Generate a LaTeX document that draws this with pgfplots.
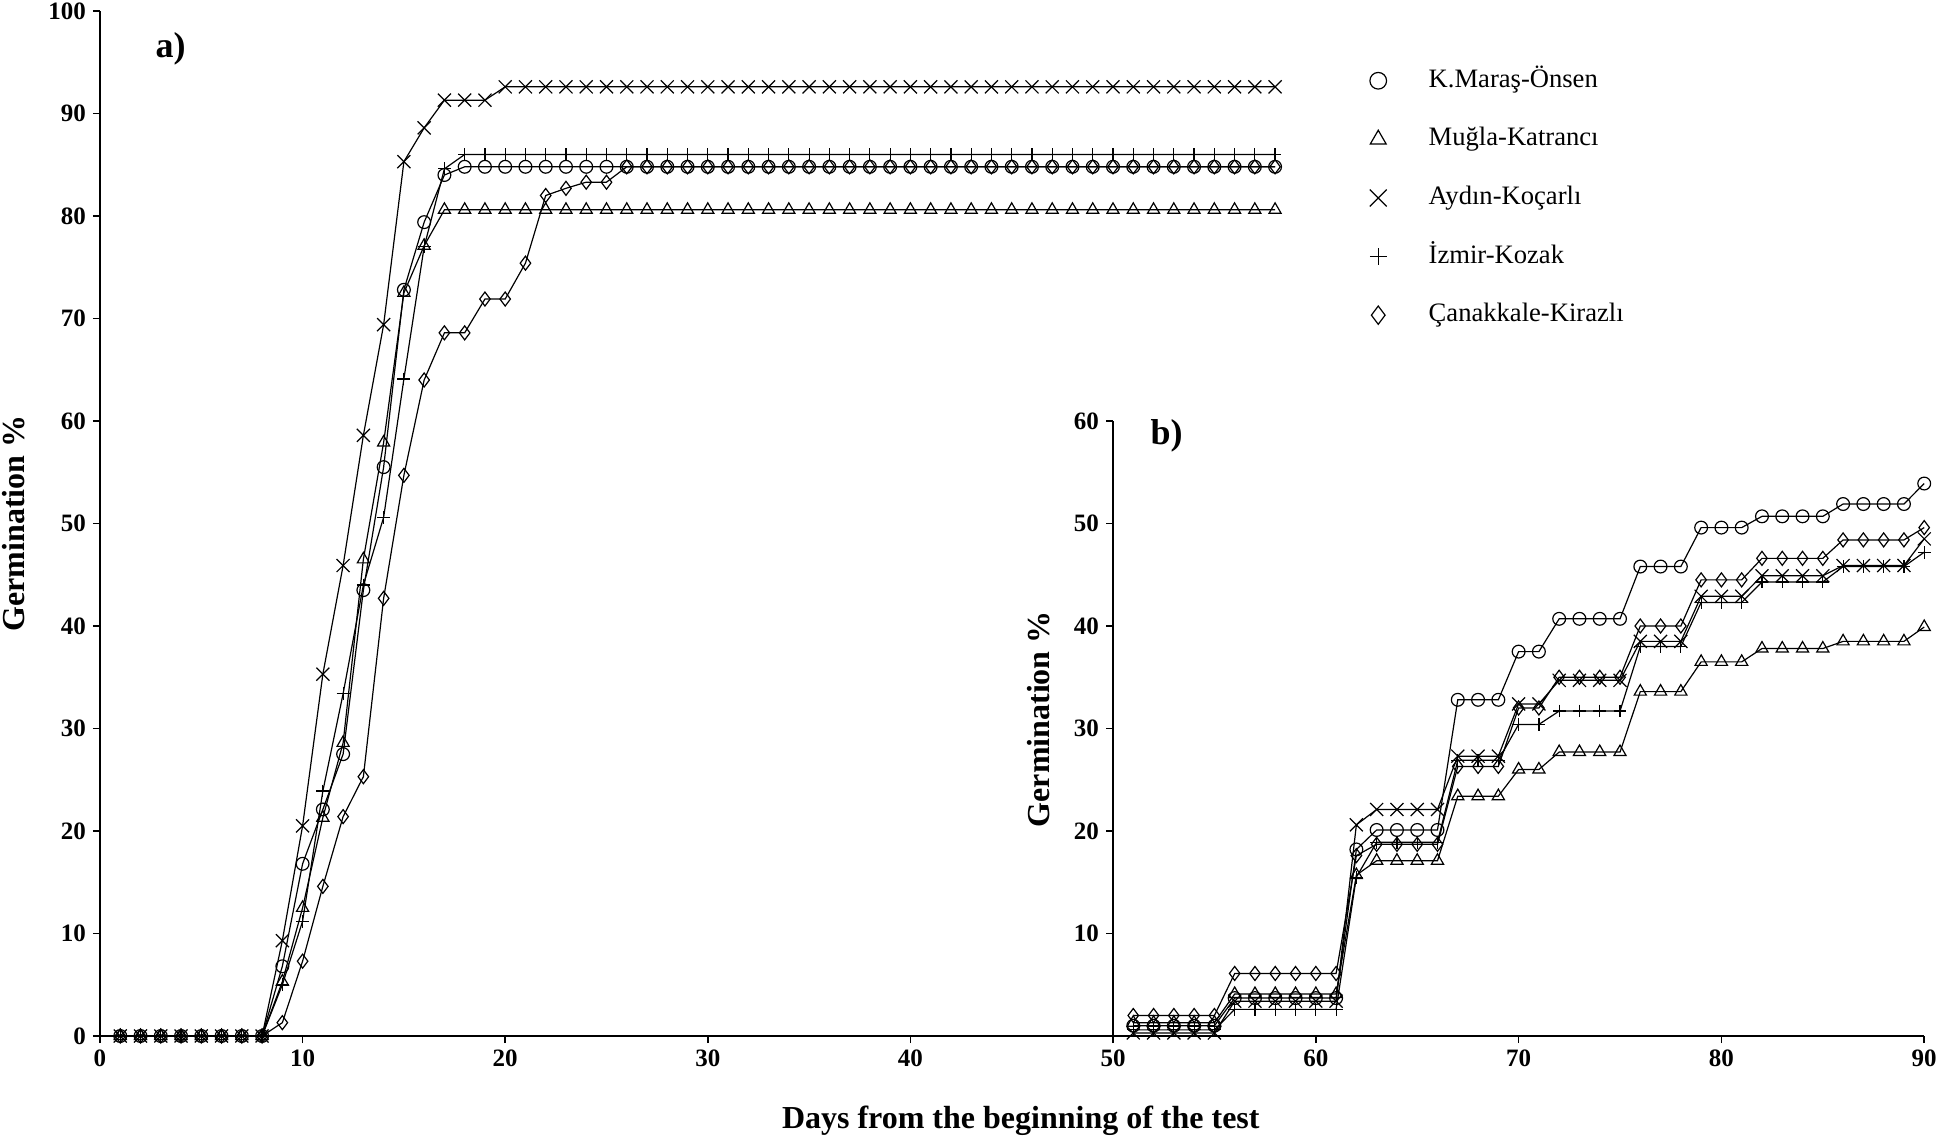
\documentclass[border=0pt]{standalone}
\usepackage{fontspec}
\setmainfont{Liberation Serif}
\usepackage{pgfplots}
\pgfplotsset{compat=1.18}
\usepackage{pgfplotstable}

% panel a: days 1-58
\pgfplotstableread{
day o tri x plus dia
1 0 0 0 0 0
2 0 0 0 0 0
3 0 0 0 0 0
4 0 0 0 0 0
5 0 0 0 0 0
6 0 0 0 0 0
7 0 0 0 0 0
8 0 0 0 0 0
9 6.8 5.3 9.3 5.0 1.3
10 16.8 12.5 20.5 11.2 7.3
11 22.1 21.3 35.3 23.9 14.6
12 27.5 28.6 45.9 33.4 21.4
13 43.5 46.5 58.6 44.0 25.3
14 55.5 57.9 69.4 50.6 42.7
15 72.8 72.5 85.3 64.1 54.7
16 79.4 77.1 88.6 77.0 64.0
17 84.0 80.6 91.3 84.6 68.6
18 84.8 80.6 91.3 86.0 68.6
19 84.8 80.6 91.3 86.0 71.9
20 84.8 80.6 92.6 86.0 71.9
21 84.8 80.6 92.6 86.0 75.4
22 84.8 80.6 92.6 86.0 82.0
23 84.8 80.6 92.6 86.0 82.7
24 84.8 80.6 92.6 86.0 83.3
25 84.8 80.6 92.6 86.0 83.3
26 84.8 80.6 92.6 86.0 84.8
27 84.8 80.6 92.6 86.0 84.8
28 84.8 80.6 92.6 86.0 84.8
29 84.8 80.6 92.6 86.0 84.8
30 84.8 80.6 92.6 86.0 84.8
31 84.8 80.6 92.6 86.0 84.8
32 84.8 80.6 92.6 86.0 84.8
33 84.8 80.6 92.6 86.0 84.8
34 84.8 80.6 92.6 86.0 84.8
35 84.8 80.6 92.6 86.0 84.8
36 84.8 80.6 92.6 86.0 84.8
37 84.8 80.6 92.6 86.0 84.8
38 84.8 80.6 92.6 86.0 84.8
39 84.8 80.6 92.6 86.0 84.8
40 84.8 80.6 92.6 86.0 84.8
41 84.8 80.6 92.6 86.0 84.8
42 84.8 80.6 92.6 86.0 84.8
43 84.8 80.6 92.6 86.0 84.8
44 84.8 80.6 92.6 86.0 84.8
45 84.8 80.6 92.6 86.0 84.8
46 84.8 80.6 92.6 86.0 84.8
47 84.8 80.6 92.6 86.0 84.8
48 84.8 80.6 92.6 86.0 84.8
49 84.8 80.6 92.6 86.0 84.8
50 84.8 80.6 92.6 86.0 84.8
51 84.8 80.6 92.6 86.0 84.8
52 84.8 80.6 92.6 86.0 84.8
53 84.8 80.6 92.6 86.0 84.8
54 84.8 80.6 92.6 86.0 84.8
55 84.8 80.6 92.6 86.0 84.8
56 84.8 80.6 92.6 86.0 84.8
57 84.8 80.6 92.6 86.0 84.8
58 84.8 80.6 92.6 86.0 84.8
}\dataa

% panel b: days 51-90
\pgfplotstableread{
day o tri x plus dia
51 1.0 1.3 0.3 0.6 2.0
52 1.0 1.3 0.3 0.6 2.0
53 1.0 1.3 0.3 0.6 2.0
54 1.0 1.3 0.3 0.6 2.0
55 1.0 1.3 0.3 0.6 2.0
56 3.7 4.1 3.4 2.6 6.1
57 3.7 4.1 3.4 2.6 6.1
58 3.7 4.1 3.4 2.6 6.1
59 3.7 4.1 3.4 2.6 6.1
60 3.7 4.1 3.4 2.6 6.1
61 3.7 4.1 3.4 2.6 6.1
62 18.2 15.7 20.6 15.5 17.6
63 20.1 17.1 22.1 18.9 18.7
64 20.1 17.1 22.1 18.9 18.7
65 20.1 17.1 22.1 18.9 18.7
66 20.1 17.1 22.1 18.9 18.7
67 32.8 23.4 27.3 26.9 26.3
68 32.8 23.4 27.3 26.9 26.3
69 32.8 23.4 27.3 26.9 26.3
70 37.5 26.0 32.4 30.4 32.0
71 37.5 26.0 32.4 30.4 32.0
72 40.7 27.7 34.7 31.7 35.0
73 40.7 27.7 34.7 31.7 35.0
74 40.7 27.7 34.7 31.7 35.0
75 40.7 27.7 34.7 31.7 35.0
76 45.8 33.6 38.5 38.0 40.0
77 45.8 33.6 38.5 38.0 40.0
78 45.8 33.6 38.5 38.0 40.0
79 49.6 36.5 42.9 42.3 44.5
80 49.6 36.5 42.9 42.3 44.5
81 49.6 36.5 42.9 42.3 44.5
82 50.7 37.8 44.9 44.3 46.6
83 50.7 37.8 44.9 44.3 46.6
84 50.7 37.8 44.9 44.3 46.6
85 50.7 37.8 44.9 44.3 46.6
86 51.9 38.5 45.9 45.8 48.4
87 51.9 38.5 45.9 45.8 48.4
88 51.9 38.5 45.9 45.8 48.4
89 51.9 38.5 45.9 45.8 48.4
90 53.9 39.9 48.5 47.2 49.6
}\datab

\pgfplotsset{
  germ/.style={
    scale only axis,
    axis lines=left,
    axis line style={-, line width=0.8pt},
    tick align=outside,
    major tick length=3.5pt,
    tick style={line width=0.8pt, black},
    clip=false,
    tick label style={font=\fontsize{12.5}{14}\selectfont\bfseries},
    /pgf/number format/assume math mode=true,
    label style={font=\fontsize{16}{18}\selectfont\bfseries},
    every axis plot/.append style={black, line width=0.6pt, mark options={solid}},
  },
  so/.style={mark=o, mark size=3.2pt},
  st/.style={mark=triangle, mark size=3.5pt},
  sx/.style={mark=x, mark size=4.6pt},
  sp/.style={mark=+, mark size=3.2pt},
  sd/.style={mark=diamond, mark size=3.5pt},
}

\begin{document}
\begin{tikzpicture}
\useasboundingbox (-50pt,-52.5pt) rectangle (923pt,518pt);

\begin{axis}[germ,
  at={(0,0)}, anchor=south west,
  width=506.5pt, height=512.5pt,
  xmin=0, xmax=50, ymin=0, ymax=100,
  xtick={0,10,...,40}, ytick={0,10,...,100},
  xlabel={Days from the beginning of the test},
  xlabel style={at={(axis description cs:0.909,-0.083)}, anchor=center},
  ylabel={Germination \%},
  ylabel style={at={(axis description cs:-0.0849,0.5)}, anchor=center},
  legend cell align={left},
  legend image code/.code={\draw[#1] plot[only marks] coordinates {(0pt,0pt)};},
  legend image post style={every mark/.append style={scale=1.3}},
  legend style={at={(axis description cs:1.2531,0.8176)}, anchor=west,
    draw=none, fill=none, inner sep=0pt,
    font=\fontsize{13.3}{15}\selectfont,
    nodes={inner sep=0pt, text height=9.5pt, text depth=3pt},
    column sep=21pt, row sep=16.8pt},
]
\addplot[so] table[x=day, y=o] {\dataa};
\addlegendentry{K.Maraş-Önsen}
\addplot[st] table[x=day, y=tri] {\dataa};
\addlegendentry{Muğla-Katrancı}
\addplot[sx] table[x=day, y=x] {\dataa};
\addlegendentry{Aydın-Koçarlı}
\addplot[sp] table[x=day, y=plus] {\dataa};
\addlegendentry{İzmir-Kozak}
\addplot[sd] table[x=day, y=dia] {\dataa};
\addlegendentry{Çanakkale-Kirazlı}
\node[anchor=west, font=\fontsize{18}{20}\selectfont\bfseries] at (axis cs:2.4,96.3) {a)};
\end{axis}

\begin{axis}[germ,
  at={(506.5pt,0)}, anchor=south west,
  width=405.6pt, height=307.5pt,
  xmin=50, xmax=90, ymin=0, ymax=60,
  xtick={50,60,...,90}, ytick={10,20,...,60},
  ylabel={Germination \%},
  ylabel style={at={(axis description cs:-0.0912,0.515)}, anchor=center},
]
\addplot[so] table[x=day, y=o] {\datab};
\addplot[st] table[x=day, y=tri] {\datab};
\addplot[sx] table[x=day, y=x] {\datab};
\addplot[sp] table[x=day, y=plus] {\datab};
\addplot[sd] table[x=day, y=dia] {\datab};
\node[anchor=west, font=\fontsize{18}{20}\selectfont\bfseries] at (axis cs:51.5,58.6) {b)};
\end{axis}
\end{tikzpicture}
\end{document}
